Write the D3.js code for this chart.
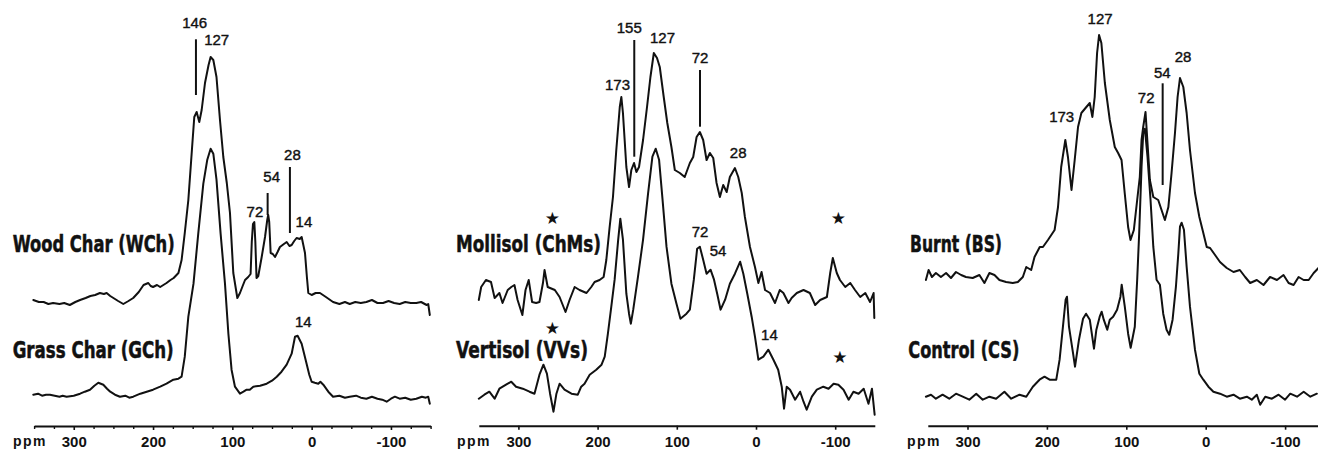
<!DOCTYPE html>
<html><head><meta charset="utf-8">
<script src="https://cdn.jsdelivr.net/npm/d3@7"></script>
<style>
html,body{margin:0;padding:0;background:#fff;}
svg{display:block;}
</style></head>
<body>
<svg id="chart" width="1318" height="451"></svg>
<script>
// ---------------- DATA (ppm, intensity a.u.) ----------------
const majorTicks = [300, 200, 100, 0, -100];
const minorTicks = [350, 325, 275, 250, 225, 175, 150, 125, 75, 50, 25, -25, -50, -75, -125, -150];

const woodChar = [[351,2],[344,0],[338,0],[332,-2],[326,-1],[318,-2],[312,-1],[305,-3],[298,0],[292,2],[285,4],[279,6],[273,7],[267,9],[262,8],[258.5,9],[254,6],[250,4],[244,1],[237.5,-2],[231,1],[225,4],[218,10],[212,17],[206,19],[203,16],[200,15],[195,17],[191,15],[187,17],[183,19],[178,22],[174,24],[168,29],[164,42],[160,69],[155.5,102],[151,152],[148,185],[145,190],[141.7,180],[138.7,192],[134.5,219],[130,237],[127.4,245],[124,242],[120,225],[115.6,182],[111.4,145],[107,119],[103,89],[98.8,29],[93.7,4],[90.4,9],[87,16],[84,22],[80,25],[77,28],[75.5,60],[74,78],[72.3,80],[71,60],[69.5,24],[67.3,26],[63,45],[58.8,65],[56,82],[54.8,87],[53.5,80],[51.7,49],[49,48],[46.2,45],[43,50],[40,55],[35,58],[31.5,60],[28,56],[25.2,57],[22,61],[19,64],[15,63],[12.6,65],[8.4,49],[6,25],[4.2,9],[0,7],[-5,9],[-10.5,9],[-18,5],[-27,0],[-35,-2],[-42,0],[-48,-2],[-55,0],[-62,-1],[-69,0],[-76,2],[-83,-1],[-90,-1],[-97,1],[-104,-1],[-111,-2],[-118,0],[-125,-1],[-132,-1],[-138,0],[-145,-3],[-147,-2],[-149,-13]];

const grassChar = [[351,2],[345,3],[340,1],[335,2],[330,2],[324,1],[318,0],[314,1],[309,0],[300,1],[292,3],[286,5],[279.5,7],[274,11],[269,14],[262.7,12],[258,8],[254,5],[248,2],[241.7,0],[235,1],[230,-1],[225,0],[216,3],[208,5],[200,7],[191,10],[183,13],[174.4,17],[168,18],[164,20],[160,40],[155.5,80],[149,113],[143,163],[136.6,213],[131.6,237],[127.4,248],[124,243],[120,217],[114.8,163],[109.3,113],[105,63],[101,27],[96.7,10],[90.4,3],[86,5],[82,7],[78,7],[73.6,10],[65,11],[56.7,13],[50,16],[44,20],[38,25],[31.5,32],[25.2,43],[21,60],[17.7,61],[12.6,53],[7,35],[3,22],[0,15],[-4,14],[-8.4,13],[-11,15],[-14.7,12],[-21,5],[-27,0],[-35,1],[-42,-1],[-48,0],[-56,1],[-62,-1],[-69,-2],[-76,0],[-83,-2],[-89,-3],[-94.6,-5],[-100,-2],[-105,0],[-111,-2],[-118,-1],[-125,-3],[-132,-2],[-139,0],[-144,-1],[-147,0],[-149,-7]];

const mollisol = [[350,0],[347,13],[341,20],[334.6,18],[330,2],[324,7],[320,-3],[313.5,10],[309,13],[305,15],[301,0],[295,-15],[291,10],[287,20],[282.7,-2],[277.6,-3],[273.4,-2],[269,17],[267,30],[263,13],[254,10],[248,3],[240.5,-12],[235.4,0],[229,13],[222.8,10],[214,7],[208,13],[203.8,18],[197.5,20],[192.4,23],[189,40],[184.8,73],[180.6,103],[176.4,150],[172,193],[170,203],[168,187],[163.7,133],[160.3,113],[157.4,130],[154,137],[151,128],[147.7,133],[142.6,160],[137.6,193],[133.3,223],[129,247],[125,242],[121.5,233],[116.5,203],[112,177],[106.8,153],[102.5,130],[96.2,127],[90,123],[83.5,137],[79.3,143],[75,163],[70.9,168],[66.7,160],[62.4,140],[58.2,147],[54,142],[49.8,117],[45.6,103],[41.4,115],[37,108],[33,123],[26.6,132],[22.4,123],[18,107],[14,83],[7.6,53],[1.3,33],[-3,17],[-7,28],[-11.4,10],[-17.7,7],[-24,-3],[-30,10],[-34.6,7],[-41,-3],[-45,2],[-51.5,7],[-60,10],[-68,7],[-74.7,-5],[-81,0],[-89.5,3],[-93.7,27],[-97,42],[-102,27],[-106,20],[-112.7,13],[-119,17],[-125,10],[-131.6,3],[-138,7],[-144,-2],[-148.5,7],[-149.4,-18]];

const vertisol = [[350,-2],[343,2],[336.7,5],[330,-2],[324,8],[315.6,12],[309,15],[303,10],[294.5,8],[286,5],[279.7,3],[273.4,22],[268.4,32],[264,23],[260,3],[255.7,-15],[252,3],[248,13],[241.8,7],[233,3],[225,2],[220.7,10],[216.5,13],[210,22],[201.7,27],[195,32],[191,40],[187,63],[182.7,90],[178.5,117],[174,157],[171.3,178],[168,157],[163.7,103],[160.3,83],[158,73],[155,87],[149,120],[142.6,157],[136.3,203],[130.8,240],[126.6,248],[122.4,237],[118,197],[113,150],[106.8,113],[100.4,93],[95.4,78],[87.8,83],[83.5,87],[78.5,117],[74.3,148],[70.9,150],[66.7,137],[62.4,123],[57.4,127],[53,117],[49,103],[44.7,87],[39,97],[33,113],[26.6,123],[20,135],[16,123],[11,103],[5.5,80],[1.3,60],[-3,37],[-9.3,40],[-15.6,47],[-22,37],[-28,27],[-32.5,10],[-35.4,-12],[-38.8,10],[-43,7],[-49.4,-3],[-55.7,5],[-60,-5],[-64,-13],[-70.5,0],[-76.8,7],[-85,10],[-91.6,8],[-98,13],[-104,12],[-110.5,7],[-117,-3],[-123,5],[-129.5,3],[-136,8],[-142,-7],[-146.4,8],[-149.8,-18]];

const burnt = [[352.4,0],[349,10],[344.8,3],[339.8,7],[333.5,3],[327,7],[320.8,2],[314.5,8],[308,5],[302,3],[293.5,2],[285,5],[278.7,-3],[272.4,7],[266,5],[259.8,0],[251.4,-2],[243,-3],[236.6,-2],[230.3,3],[226,13],[219.8,10],[215.6,23],[209,33],[205,33],[198.7,40],[190.3,50],[186,73],[182,113],[176.8,140],[173.5,123],[169,90],[165,120],[160.8,153],[156.6,167],[150.3,173],[146,177],[142.7,163],[139.8,183],[136.8,227],[134.3,245],[131.4,237],[127,197],[120.8,160],[114.5,133],[110.3,127],[106,120],[102,87],[97.7,53],[94.7,40],[90.5,50],[86.3,80],[83,103],[80.8,140],[78.7,153],[75.8,168],[73.3,137],[70.3,100],[66,83],[59.8,80],[55.6,70],[51.4,60],[47,73],[43,107],[38.7,147],[35.4,183],[32.4,202],[28.2,193],[24,167],[19.8,130],[13.5,87],[8,63],[3,47],[-1.3,33],[-5.5,32],[-11.8,25],[-18,18],[-26.5,12],[-35,8],[-43,10],[-49.7,3],[-56,-3],[-64.4,0],[-72.8,-5],[-81,3],[-89.7,0],[-98,5],[-104.4,-3],[-110.7,-5],[-117,3],[-123.4,0],[-129.7,0],[-136,7],[-142,12]];

const control = [[352.4,0],[346,2],[339.8,-2],[331.4,2],[323,-2],[314.5,3],[306,0],[297.7,-3],[289,3],[280.8,-3],[272.4,0],[264,-2],[253.5,5],[245,-2],[234.5,2],[226,0],[217.7,10],[209.3,17],[203,20],[196.6,17],[188.2,17],[184,37],[179.8,70],[176.4,97],[174.7,100],[172.2,70],[167,43],[164.6,30],[159.6,57],[154.5,78],[150.7,83],[146,77],[140.7,48],[137.7,67],[133.5,80],[131,85],[128.4,77],[124,67],[120.8,77],[116.6,80],[111.6,87],[107.4,100],[105.8,112],[101.9,90],[97.7,63],[94.5,49],[89.3,70],[86.3,117],[83.8,163],[80.8,230],[78.7,263],[76.6,268],[73.3,240],[69.5,197],[66,150],[61.9,117],[57.7,112],[53.5,83],[49.3,67],[45.9,62],[41.7,77],[37.5,110],[34.5,143],[32.4,170],[30.3,174],[27.4,167],[24,130],[19.8,90],[13.5,47],[8,23],[3,17],[-3.4,10],[-9.7,5],[-18,3],[-26.5,0],[-35,2],[-43,-2],[-51.8,0],[-58,-3],[-64.4,2],[-68.6,-8],[-75,0],[-83.4,-2],[-91.8,2],[-100,-3],[-106.5,3],[-115,0],[-123.4,5],[-131.8,0],[-140,3]];

// sample names
const panel1Names = ["Wood Char (WCh)", "Grass Char (GCh)"];
const panel2Names = ["Mollisol (ChMs)", "Vertisol (VVs)"];
const panel3Names = ["Burnt (BS)", "Control (CS)"];

// peak annotations: [text, ppm, intensity]
const panel1Peaks = [["146",147.5,370],["127",119.8,353],["72",71.5,181.5],["54",50.4,216],["28",24.2,238],["14",9.7,171],["14",10.6,71]];
const panel1Markers = [[145.9,358.7,303],[27.4,231,165],[55.5,205,183]];
const panel2Peaks = [["155",160,364.7],["127",118,354.7],["173",174.9,308],["72",70.7,334.7],["28",22.5,239.7],["72",70.7,160.7],["54",48,142],["14",-17,58]];
const panel2Markers = [[153.7,358,241.3],[70.7,328,271.3]];
const panel2Stars = [[257,179.7],[-104,179.7],[257,69.7],[-106,41.3]];
const panel3Peaks = [["127",133,374],["28",28.6,336.3],["54",54.7,319.7],["72",75,294.7],["173",181.4,276.3]];
const panel3Markers = [[54.2,314.7,213]];

// ---------------- DRAWING ----------------
const svg = d3.select("#chart");
const y = d3.scaleLinear().domain([0, 390]).range([398, 8]);

const panels = [
  { range:[34.1,430.6], axisY:426, minor:true, spectra:[woodChar, grassChar], offsets:[96,1.3], names:panel1Names,
    nameX:[12.7,12.7], nameLen:[162,161], nameY:[252,357.5], peaks:panel1Peaks, markers:panel1Markers, stars:[], ppmX:13 },
  { range:[478.8,874.8], axisY:425.7, minor:false, spectra:[mollisol, vertisol], offsets:[98,1.3], names:panel2Names,
    nameX:[456,456], nameLen:[145,132], nameY:[252,357.5], peaks:panel2Peaks, markers:panel2Markers, stars:panel2Stars, ppmX:457 },
  { range:[927.8,1324.8], axisY:425.7, minor:false, spectra:[burnt, control], offsets:[118,1.3], names:panel3Names,
    nameX:[910,908.3], nameLen:[92,111], nameY:[252,357.5], peaks:panel3Peaks, markers:panel3Markers, stars:[], ppmX:907 }
];

panels.forEach(p => {
  const x = d3.scaleLinear().domain([350, -150]).range(p.range);
  const g = svg.append("g");

  // spectra
  p.spectra.forEach((s, i) => {
    const line = d3.line().x(d => x(d[0])).y(d => y(d[1] + p.offsets[i])).curve(d3.curveLinear);
    g.append("path").datum(s).attr("d", line)
      .attr("fill","none").attr("stroke","#111").attr("stroke-width",2)
      .attr("stroke-linejoin","round").attr("stroke-linecap","round");
  });

  // sample names
  p.names.forEach((n, i) => {
    g.append("text").text(n)
      .attr("x", p.nameX[i]).attr("y", p.nameY[i])
      .attr("textLength", p.nameLen[i]).attr("lengthAdjust","spacingAndGlyphs")
      .style("font-family","'DejaVu Sans Condensed','DejaVu Sans','Liberation Sans',sans-serif")
      .style("font-weight","bold").style("font-size","23px").attr("fill","#111")
      .attr("stroke","#111").attr("stroke-width",0.5);
  });

  // peak labels
  p.peaks.forEach(d => {
    g.append("text").text(d[0])
      .attr("x", x(d[1])).attr("y", y(d[2]))
      .attr("text-anchor","middle")
      .style("font-family","'Liberation Sans',Arial,sans-serif")
      .style("font-size","15px").attr("fill","#111")
      .attr("stroke","#111").attr("stroke-width",0.4);
  });

  // marker lines
  g.selectAll(null).data(p.markers).join("line")
    .attr("x1", d => x(d[0])).attr("x2", d => x(d[0]))
    .attr("y1", d => y(d[1])).attr("y2", d => y(d[2]))
    .attr("stroke","#111").attr("stroke-width",2);

  // spinning sideband stars
  p.stars.forEach(d => {
    g.append("text").text("\u2605")
      .attr("x", x(d[0])).attr("y", y(d[1]))
      .attr("text-anchor","middle").attr("dominant-baseline","central")
      .style("font-family","'DejaVu Sans',sans-serif").style("font-size","17px").attr("fill","#111");
  });

  // axis
  const axis = d3.axisBottom(x).tickValues(majorTicks).tickSize(4).tickSizeOuter(0)
    .tickFormat(d => String(d));
  const ag = g.append("g").attr("transform", `translate(0,${p.axisY})`).call(axis);
  ag.select(".domain").attr("stroke","#111").attr("stroke-width",2);
  ag.selectAll(".tick line").attr("stroke","#111").attr("stroke-width",1.6);
  ag.selectAll(".tick text").attr("y", 10.5).attr("dy","0.71em")
    .style("font-family","'Liberation Sans',Arial,sans-serif").style("font-weight","bold")
    .style("font-size","15px").attr("fill","#111");
  if (p.minor) {
    const mg = g.append("g").attr("transform", `translate(0,${p.axisY})`)
      .call(d3.axisBottom(x).tickValues(minorTicks).tickSize(3).tickSizeOuter(0).tickFormat(""));
    mg.select(".domain").remove();
    mg.selectAll(".tick line").attr("stroke","#111").attr("stroke-width",1.4);
  }
  g.append("text").text("ppm")
    .attr("x", p.ppmX).attr("y", p.axisY + 20)
    .style("font-family","'Liberation Sans',Arial,sans-serif").style("font-weight","bold")
    .style("font-size","14px").style("letter-spacing","1.5px").attr("fill","#111");
});
</script>
</body></html>
